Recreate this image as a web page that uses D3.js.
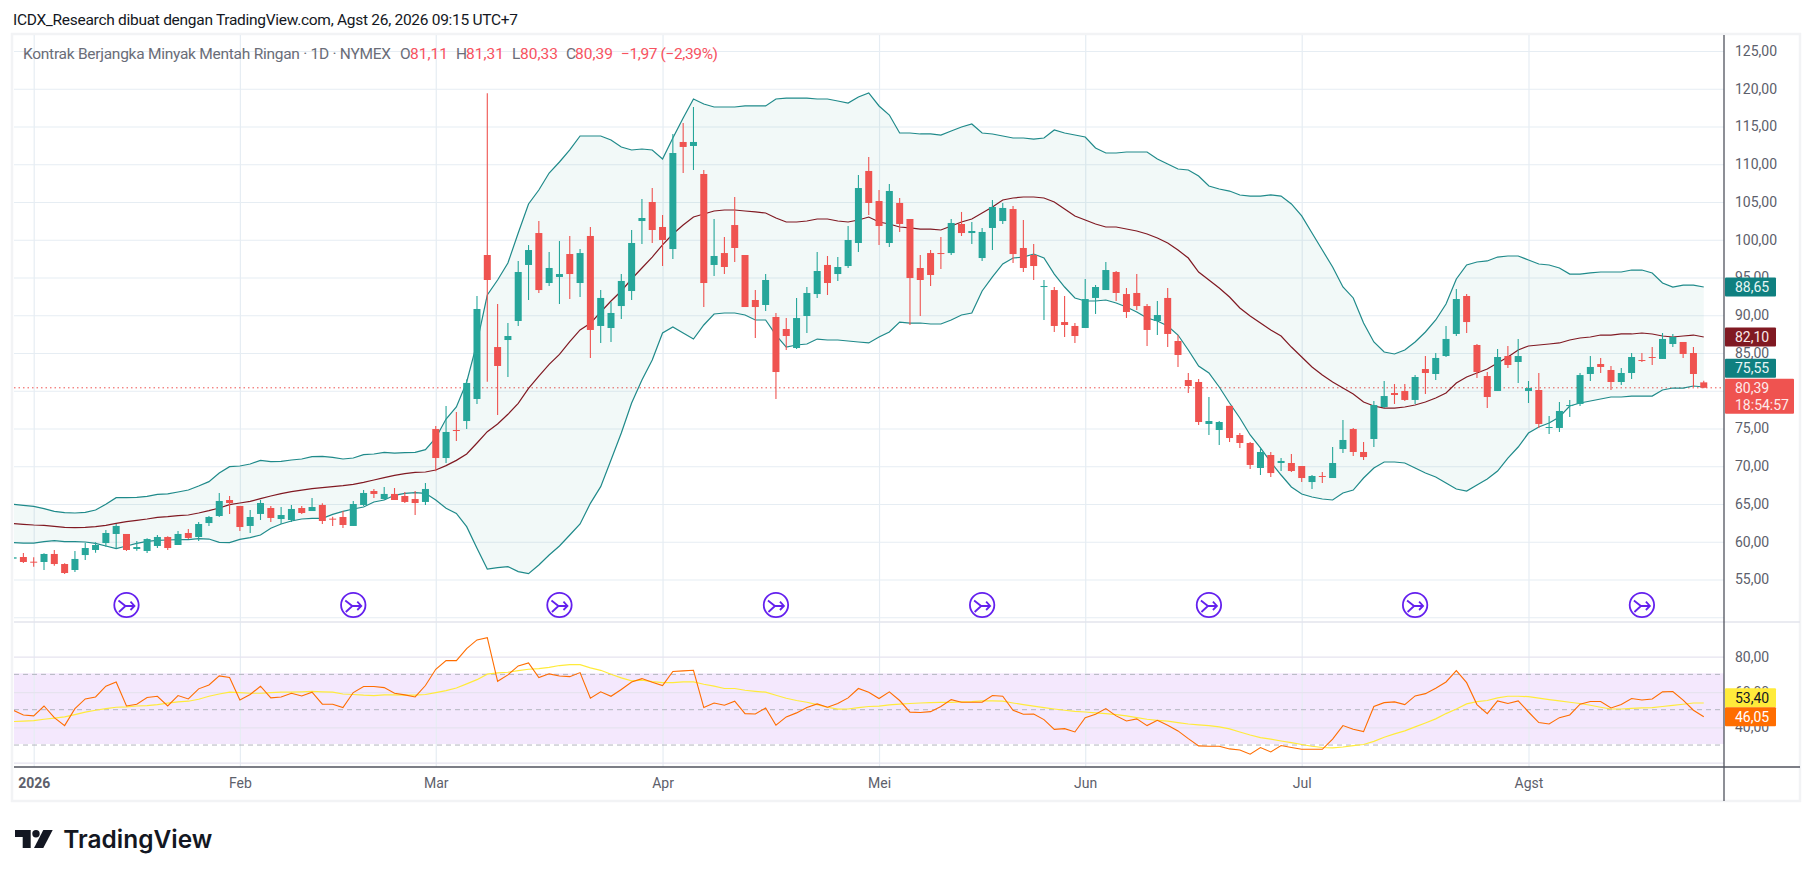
<!DOCTYPE html>
<html>
<head>
<meta charset="utf-8">
<title>Kontrak Berjangka Minyak Mentah Ringan</title>
<script src="https://cdn.jsdelivr.net/npm/d3@7"></script>
<style>
  html, body { margin: 0; padding: 0; background: #fff; }
  text { font-family: Roboto, sans-serif; }
</style>
</head>
<body>
<svg id="main-chart-svg" width="1814" height="877"></svg>
<script>
// daily candles, bar 0 is the stub at the left edge
const opens = [
  57.76,57.98,57.36,57.32,58.38,57.05,56.26,58.24,58.91,59.83,
  61.03,61.03,59.04,58.78,59.44,60.63,59.57,61.16,60.63,62.48,
  63.41,65.53,64.74,62.09,63.68,64.47,63.01,62.88,64.47,64.07,
  64.87,63.06,63.28,62.09,64.87,66.72,65.66,66.33,66.06,65.66,
  65.27,74.93,71.09,74.80,75.99,78.91,97.98,85.79,86.72,89.24,
  96.66,100.89,94.27,95.07,98.11,94.27,100.50,88.58,88.31,91.22,
  93.21,102.48,105.00,101.69,98.77,112.95,112.42,108.71,96.66,98.24,
  101.95,97.98,92.02,91.36,89.77,88.18,85.66,89.90,92.81,96.66,
  95.46,96.52,99.57,109.11,105.13,99.57,104.87,102.75,96.26,98.24,
  98.24,98.24,102.09,100.89,97.58,101.56,102.48,104.07,98.91,97.98,
  93.74,93.34,89.10,88.58,88.31,92.29,93.34,95.73,92.81,92.95,
  91.22,89.24,92.29,86.59,81.42,81.16,75.60,74.80,78.00,74.14,
  73.08,69.77,71.49,70.43,70.43,70.03,67.91,68.71,68.44,72.28,
  74.93,71.89,73.61,77.85,79.70,79.97,78.78,82.88,82.22,84.60,
  87.52,92.55,86.06,81.95,79.97,84.60,83.81,79.97,80.10,75.07,
  75.07,77.98,78.25,82.22,83.54,82.75,81.16,82.35,84.07,84.47,
  84.21,86.19,86.46,85.00,81.11
];
const highs = [
  58.00,58.51,57.94,58.47,58.91,57.14,58.77,59.88,59.92,61.56,
  62.35,61.03,60.10,60.45,60.89,60.72,61.42,61.69,62.62,63.41,
  66.46,66.06,64.74,64.21,65.53,64.74,64.60,64.87,64.74,65.79,
  65.09,63.32,64.07,65.40,66.86,66.99,67.25,67.12,66.59,66.72,
  67.78,75.33,77.98,77.19,81.50,92.55,119.40,91.49,88.97,97.18,
  99.30,102.48,98.38,99.83,100.50,98.77,101.69,93.34,91.76,95.46,
  101.29,105.40,106.85,103.28,114.01,115.46,117.58,109.24,102.75,100.36,
  105.66,97.98,93.34,95.46,90.30,89.63,92.29,93.74,98.38,97.85,
  97.72,101.82,108.58,110.96,106.59,107.38,105.53,102.75,97.98,98.64,
  100.36,102.75,103.68,102.35,101.56,105.27,104.87,104.47,102.62,99.44,
  94.67,93.74,92.55,88.97,94.80,94.01,97.05,95.86,93.61,95.46,
  91.49,91.89,93.61,87.38,82.35,81.56,79.17,75.99,78.00,74.40,
  73.21,72.55,71.89,71.09,71.62,70.03,68.84,69.24,72.55,76.13,
  75.07,73.21,78.64,81.29,80.89,80.89,82.08,84.60,85.00,88.58,
  93.48,92.81,86.19,82.48,85.53,85.93,86.86,81.29,82.35,76.65,
  78.51,78.78,82.35,84.60,84.34,83.28,83.01,85.00,85.00,85.79,
  87.65,87.52,86.46,85.79,81.31
];
const lows = [
  57.70,57.19,56.70,56.26,56.83,55.73,55.99,57.58,58.55,59.35,
  59.13,58.78,58.82,58.51,59.17,58.91,59.57,60.36,60.10,62.09,
  63.28,63.68,61.42,61.16,62.88,62.62,62.35,62.62,63.68,64.07,
  62.35,62.09,61.82,62.09,64.74,65.79,65.53,65.53,65.13,63.54,
  64.87,69.33,70.43,73.34,74.93,78.24,81.20,76.79,81.82,88.58,
  92.02,92.95,93.87,91.49,92.15,92.42,84.34,86.33,86.46,89.50,
  92.02,99.44,99.57,96.52,97.45,108.84,109.24,91.09,95.20,95.46,
  97.05,91.09,86.99,90.56,78.90,85.40,85.53,87.65,92.29,92.68,
  94.54,96.26,98.38,103.28,99.31,99.04,101.03,88.71,89.90,93.87,
  96.13,97.98,100.50,99.44,97.18,98.64,102.09,96.92,95.73,94.67,
  89.37,87.78,87.12,86.33,88.31,90.17,93.34,91.89,89.64,90.70,
  85.93,87.38,85.79,83.15,79.70,75.46,74.14,72.81,73.21,72.42,
  69.64,68.84,68.58,69.37,69.24,67.91,66.99,67.78,68.44,71.76,
  71.36,70.83,72.55,77.71,78.25,78.64,78.25,79.57,81.42,84.47,
  87.25,87.65,81.69,77.71,79.97,83.01,81.03,78.38,75.07,74.27,
  74.54,76.52,77.98,81.29,82.35,80.10,80.76,81.56,83.81,83.41,
  84.21,85.79,84.34,80.50,80.33
];
const closes = [
  57.94,57.32,57.27,58.38,57.05,55.86,57.72,59.17,59.57,61.16,
  62.09,58.91,59.30,60.36,60.63,59.17,61.03,60.50,62.35,63.28,
  65.40,65.13,61.95,63.28,65.13,63.15,63.54,64.34,63.81,64.60,
  62.75,62.93,62.22,65.00,66.46,66.33,66.33,65.53,65.27,65.13,
  66.99,71.09,74.54,74.67,81.03,90.83,94.67,83.28,87.25,95.73,
  98.64,93.34,96.26,95.46,95.46,98.24,88.05,92.29,90.30,94.54,
  99.57,102.88,101.29,99.97,111.49,112.29,112.95,94.27,97.85,96.39,
  98.91,91.09,91.09,94.67,82.48,87.25,89.63,92.95,95.86,94.27,
  96.39,99.97,106.85,104.87,101.82,106.46,102.09,94.93,94.67,95.33,
  98.11,102.22,100.89,101.16,101.03,104.34,104.21,98.11,96.26,96.52,
  93.87,88.58,88.71,87.25,92.15,93.74,95.99,92.95,90.43,91.22,
  88.05,90.03,87.52,84.74,80.63,75.86,75.99,75.86,73.74,73.08,
  70.17,71.89,69.10,70.70,69.37,68.44,68.71,68.58,70.43,73.48,
  71.89,71.22,78.11,79.30,79.44,78.78,81.82,82.35,84.34,86.86,
  92.15,89.10,82.48,79.17,84.47,83.41,84.60,80.36,75.60,75.20,
  77.32,78.11,82.08,83.15,83.15,81.16,82.35,84.47,83.94,84.34,
  86.86,87.12,84.87,82.22,80.39
];

// bollinger bands
const bbUpper = [
  64.96,64.82,64.69,64.38,64.03,63.85,63.81,63.90,64.21,64.96,
  65.84,65.84,65.88,66.02,66.28,66.33,66.59,66.85,67.38,67.96,
  69.11,69.94,70.03,70.30,70.78,70.61,70.65,70.83,70.96,71.27,
  71.31,71.18,70.96,71.09,71.53,71.62,71.84,71.75,71.80,71.84,
  72.20,73.74,76.26,77.85,81.16,86.33,92.68,94.67,96.92,100.89,
  104.74,106.59,108.84,110.30,111.89,113.74,113.74,113.74,113.21,112.29,
  111.89,112.02,111.89,110.70,113.48,116.13,118.64,117.98,117.58,117.58,
  117.58,117.72,117.72,117.72,118.64,118.77,118.77,118.77,118.64,118.64,
  118.38,118.11,118.91,119.44,117.72,116.52,114.14,114.14,114.01,114.01,
  113.87,114.40,114.93,115.33,114.14,114.01,113.74,113.48,113.48,113.34,
  113.48,114.54,114.14,113.87,113.61,112.15,111.49,111.49,111.62,111.62,
  111.62,110.70,110.03,109.37,109.24,108.44,107.12,106.72,106.45,105.93,
  105.79,105.79,105.93,105.79,104.74,103.15,100.89,98.64,96.39,93.74,
  92.29,88.97,86.46,85.13,84.87,85.40,86.46,87.78,89.37,91.49,
  94.80,96.66,97.05,97.19,97.71,97.85,97.85,97.32,96.79,96.66,
  96.26,95.46,95.46,95.60,95.73,95.73,95.73,95.99,95.99,95.60,
  94.27,93.74,94.00,94.00,93.74
];
const bbBasis = [
  62.40,62.31,62.22,62.17,62.04,61.91,61.87,61.91,62.00,62.17,
  62.44,62.66,62.84,63.01,63.23,63.32,63.46,63.54,63.81,64.12,
  64.47,64.91,65.13,65.35,65.71,66.06,66.37,66.63,66.85,67.03,
  67.16,67.30,67.43,67.60,67.87,68.18,68.49,68.80,69.02,69.19,
  69.24,69.50,70.08,70.78,71.62,73.08,74.58,75.60,76.88,78.33,
  80.32,81.95,83.50,84.82,86.50,88.05,88.93,90.43,91.89,93.21,
  94.80,96.26,97.71,99.31,100.76,101.95,103.01,103.41,103.81,103.94,
  103.94,103.81,103.68,103.54,102.88,102.35,102.35,102.48,102.75,102.75,
  102.48,102.35,102.62,103.01,102.35,102.09,101.69,101.56,101.42,101.42,
  101.29,101.82,102.35,102.75,103.54,104.34,105.27,105.53,105.66,105.66,
  105.53,105.00,104.07,103.15,102.62,102.09,101.69,101.69,101.42,101.16,
  100.76,100.23,99.57,98.64,97.58,95.73,94.67,93.61,92.42,90.96,
  89.90,88.97,88.05,87.25,85.79,84.47,83.15,82.08,81.16,80.36,
  79.57,78.51,77.98,77.71,77.71,77.85,78.11,78.51,79.04,79.70,
  81.03,81.82,82.35,82.88,83.68,84.47,85.40,85.93,86.06,86.19,
  86.33,86.72,86.99,87.12,87.38,87.38,87.52,87.52,87.65,87.52,
  87.25,87.12,87.25,87.38,87.12
];
const bbLower = [
  59.88,59.83,59.83,60.01,60.14,60.01,60.01,59.97,59.79,59.44,
  59.08,59.44,59.79,60.06,60.19,60.23,60.28,60.28,60.41,60.36,
  59.92,59.88,60.32,60.54,60.89,61.78,62.35,62.75,63.01,63.10,
  63.10,63.63,64.03,64.34,64.60,65.27,65.53,66.15,66.41,66.50,
  66.41,65.53,64.43,63.76,62.00,59.13,56.39,56.57,56.70,56.04,
  55.77,56.92,58.24,59.44,60.89,62.35,65.09,67.30,70.83,74.40,
  78.38,81.42,84.07,87.65,88.44,87.65,86.85,88.71,90.17,90.30,
  90.30,90.03,89.37,89.37,87.38,85.79,86.06,86.19,86.85,86.72,
  86.72,86.59,86.46,86.33,87.12,87.78,89.10,88.97,88.97,88.84,
  88.84,89.37,90.03,90.30,93.21,95.07,96.79,97.58,97.71,98.11,
  97.58,95.46,93.74,92.29,91.89,91.89,92.02,91.62,91.09,90.43,
  89.64,89.24,88.58,87.38,85.40,83.28,82.35,80.50,78.38,76.39,
  74.14,72.42,70.56,68.84,67.25,66.32,65.93,65.66,65.53,66.46,
  66.85,68.44,69.77,70.56,70.56,70.43,69.77,69.11,68.58,67.78,
  66.99,66.72,67.52,68.31,69.37,71.09,72.55,74.40,75.20,75.73,
  76.52,77.98,78.38,78.64,78.91,79.17,79.17,79.30,79.30,79.30,
  80.10,80.36,80.36,80.63,80.50
];

// rsi pane
const rsiValues = [
  49.7,47.0,46.5,52.1,45.5,41.0,50.6,56.1,57.2,63.3,
  65.7,52.1,53.1,56.9,57.6,52.1,58.0,56.1,61.8,64.0,
  69.1,68.2,55.5,58.6,63.3,56.7,57.2,59.3,57.8,59.9,
  53.1,53.1,51.2,59.7,63.1,63.1,62.5,59.3,58.4,57.2,
  63.7,72.9,77.8,77.8,84.6,89.5,90.8,66.1,69.7,74.8,
  76.5,68.2,70.3,69.1,68.7,71.0,56.5,60.1,57.6,61.4,
  65.7,67.6,65.5,63.7,71.6,72.0,72.3,51.2,53.8,52.5,
  54.8,47.8,47.6,51.0,41.2,45.9,48.2,51.2,53.3,51.4,
  53.5,56.7,62.0,59.9,56.3,60.1,55.2,48.6,48.4,48.9,
  51.8,55.7,54.2,54.2,54.2,58.0,57.6,49.7,47.4,47.6,
  44.4,38.9,39.3,37.4,45.5,47.4,50.6,46.5,43.6,44.8,
  41.0,44.0,41.2,38.0,33.6,29.5,29.3,29.3,27.8,27.2,
  24.8,28.6,26.1,29.7,28.6,27.6,27.6,27.6,33.3,41.0,
  38.9,37.6,51.8,54.0,54.4,52.9,57.8,59.1,62.1,65.7,
  72.1,65.3,52.9,47.8,55.0,53.5,55.0,48.7,42.7,41.9,
  45.5,47.0,53.1,54.6,54.6,51.0,52.9,56.3,55.5,56.1,
  60.1,60.3,55.4,49.7,46.05
];
const rsiMa = [
  43.3,43.5,43.8,44.6,45.2,45.9,47.2,48.6,49.7,50.6,
  51.4,51.6,52.1,52.3,52.9,53.7,54.4,54.8,55.9,57.6,
  58.9,59.9,59.7,59.3,59.3,59.7,59.9,59.9,60.1,60.4,
  60.1,59.9,58.9,58.6,58.2,58.0,58.4,58.4,58.2,58.2,
  58.6,59.7,60.8,62.3,64.6,67.0,70.1,70.8,71.2,72.1,
  72.9,73.3,74.0,75.0,75.5,75.5,73.7,72.3,70.1,68.0,
  66.3,66.7,65.9,65.3,65.3,65.7,65.7,64.4,63.3,62.0,
  62.0,61.0,60.4,59.9,58.2,56.5,55.2,54.2,52.9,51.4,
  50.3,50.4,51.2,51.8,52.0,52.7,53.1,53.5,53.8,54.0,
  54.2,54.2,54.4,54.6,55.0,55.0,54.8,53.8,52.9,52.0,
  51.2,50.4,49.7,49.1,48.7,48.2,47.8,47.2,46.5,45.5,
  44.6,44.0,43.5,42.7,41.9,41.4,41.0,40.3,39.1,37.4,
  35.7,34.2,33.3,32.3,31.4,30.3,29.3,28.6,28.4,28.9,
  29.7,30.3,32.1,34.4,36.3,38.0,40.3,42.5,44.8,47.8,
  50.4,53.3,54.6,55.2,56.7,57.6,57.6,57.4,56.5,55.7,
  55.0,54.2,53.5,52.5,51.4,50.4,50.4,50.8,51.0,51.2,
  51.8,52.5,53.1,53.8,53.8
];

// axes
const priceTicks = [55,60,65,70,75,80,85,90,95,100,105,110,115,120,125];
const priceGrid = [50].concat(priceTicks);
const rsiTicks = [80,60,40,20];
const rsiLevels = [70,50,30];
const monthBars = [2,22,41,63,84,104,125,147];
const monthLabels = ["2026","Feb","Mar","Apr","Mei","Jun","Jul","Agst"];
const eventBars = [11,33,53,74,94,116,136,158];

// header and last value labels
const titleText = "ICDX_Research dibuat dengan TradingView.com, Agst 26, 2026 09:15 UTC+7";
const symbolText = "Kontrak Berjangka Minyak Mentah Ringan · 1D · NYMEX";
const ohlcText = ["O","81,11","H","81,31","L","80,33","C","80,39","−1,97 (−2,39%)"];
const countdownText = "18:54:57";
const upperLabel = "88,65", basisLabel = "82,10", lowerLabel = "75,55", closeLabel = "80,39";
const rsiLabel = "46,05", rsiMaLabel = "53,40";

const teal = "#26a69a", red = "#ef5350", bandColor = "#1f8a8a", basisColor = "#801922";
const gridColor = "#e6edf3", axisColor = "#50535e", tickColor = "#5d606b";

const plotLeft = 14, plotRight = 1724, plotTop = 35, plotBottom = 767, paneBreak = 622;

const svg = d3.select("#main-chart-svg");
const bars = d3.range(opens.length);

const xScale = d3.scaleLinear().domain([2, 147]).range([33.7, 1528.5]);
const yScale = d3.scaleLinear().domain([125, 50]).range([51, 617.25]);
const rsiScale = d3.scaleLinear().domain([80, 20]).range([656.7, 762.7]);
const comma = d => d3.format(".2f")(d).replace(".", ",");

svg.append("defs").append("clipPath").attr("id", "plot-clip")
  .append("rect").attr("x", plotLeft).attr("y", plotTop).attr("width", plotRight - plotLeft).attr("height", plotBottom - plotTop);

// frame
svg.append("rect").attr("x", 12).attr("y", 34).attr("width", 1788).attr("height", 767)
  .attr("fill", "#fff").attr("stroke", "#f2f3f5").attr("stroke-width", 2.5);

const plot = svg.append("g").attr("clip-path", "url(#plot-clip)");

// rsi band goes under the grid lines
plot.append("rect")
  .attr("x", plotLeft).attr("width", plotRight - plotLeft)
  .attr("y", rsiScale(rsiLevels[0]) - 1)
  .attr("height", rsiScale(rsiLevels[2]) - rsiScale(rsiLevels[0]))
  .attr("fill", "#f4e8fd");

// grid, built from axes with long ticks
const xGrid = plot.append("g").attr("transform", `translate(0,${plotBottom})`)
  .call(d3.axisBottom(xScale).tickValues(monthBars).tickSize(plotTop - plotBottom).tickFormat(""));
xGrid.select(".domain").remove();
xGrid.selectAll("line").attr("stroke", gridColor).attr("stroke-width", 1.2);

const yGrid = plot.append("g").attr("transform", `translate(${plotLeft},0)`)
  .call(d3.axisRight(yScale).tickValues(priceGrid).tickSize(plotRight - plotLeft).tickFormat(""));
yGrid.select(".domain").remove();
yGrid.selectAll("line").attr("stroke", gridColor).attr("stroke-width", 1.2);

const rsiGrid = plot.append("g").attr("transform", `translate(${plotLeft},0)`)
  .call(d3.axisRight(rsiScale).tickValues(rsiTicks).tickSize(plotRight - plotLeft).tickFormat(""));
rsiGrid.select(".domain").remove();
rsiGrid.selectAll("line").attr("stroke", "#e6e3ef").attr("stroke-width", 1.2);

plot.selectAll(".rsi-level").data(rsiLevels).join("line")
  .attr("class", "rsi-level")
  .attr("x1", plotLeft).attr("x2", plotRight)
  .attr("y1", d => rsiScale(d)).attr("y2", d => rsiScale(d))
  .attr("stroke", "#b2b5be").attr("stroke-width", 1).attr("stroke-dasharray", "5 4");

// pane separator and last price line
svg.append("line").attr("x1", plotLeft).attr("x2", 1800).attr("y1", paneBreak).attr("y2", paneBreak)
  .attr("stroke", "#e3e5ec").attr("stroke-width", 1.5);
plot.append("line")
  .attr("x1", plotLeft).attr("x2", plotRight)
  .attr("y1", yScale(closes[closes.length - 1])).attr("y2", yScale(closes[closes.length - 1]))
  .attr("stroke", red).attr("stroke-width", 1).attr("stroke-dasharray", "1.5 3");

// bollinger fill and lines
plot.append("path").datum(bars)
  .attr("fill", "#2a9d8f").attr("fill-opacity", 0.06)
  .attr("d", d3.area().x(i => xScale(i)).y0(i => yScale(bbLower[i])).y1(i => yScale(bbUpper[i])));

const priceLine = vals => d3.line().x(i => xScale(i)).y(i => yScale(vals[i]));
[[bbUpper, bandColor], [bbLower, bandColor], [bbBasis, basisColor]].forEach(([vals, color]) => {
  plot.append("path").datum(bars)
    .attr("fill", "none").attr("stroke", color).attr("stroke-width", 1.2)
    .attr("d", priceLine(vals));
});

// candles
const candleColor = i => closes[i] >= opens[i] ? teal : red;
plot.selectAll(".wick").data(bars).join("line")
  .attr("class", "wick")
  .attr("x1", i => xScale(i)).attr("x2", i => xScale(i))
  .attr("y1", i => yScale(highs[i])).attr("y2", i => yScale(lows[i]))
  .attr("stroke", candleColor).attr("stroke-width", 1.1);
plot.selectAll(".body").data(bars).join("rect")
  .attr("class", "body")
  .attr("x", i => xScale(i) - 3.5).attr("width", 7)
  .attr("y", i => yScale(Math.max(opens[i], closes[i])))
  .attr("height", i => Math.max(1, Math.abs(yScale(opens[i]) - yScale(closes[i]))))
  .attr("fill", candleColor);

// rsi lines
const rsiLine = vals => d3.line().x(i => xScale(i)).y(i => rsiScale(vals[i]));
plot.append("path").datum(bars).attr("fill", "none").attr("stroke", "#ffeb3b").attr("stroke-width", 1.2)
  .attr("d", rsiLine(rsiMa));
plot.append("path").datum(bars).attr("fill", "none").attr("stroke", "#ff6d00").attr("stroke-width", 1.1)
  .attr("d", rsiLine(rsiValues));

// event markers
const marks = plot.selectAll(".event").data(eventBars).join("g")
  .attr("class", "event")
  .attr("transform", d => `translate(${xScale(d)},605)`)
  .attr("fill", "none").attr("stroke", "#6420ee").attr("stroke-width", 1.8);
marks.append("circle").attr("r", 12.2).attr("fill", "#fff");
marks.append("path").attr("d", "M-8,-4.5L-1,1L8,1M4,-3.3L8,1L4,5M-1,1L-7.5,7");

// axis lines
svg.append("line").attr("x1", plotRight).attr("x2", plotRight).attr("y1", plotTop).attr("y2", 801)
  .attr("stroke", axisColor).attr("stroke-width", 1.3);
svg.append("line").attr("x1", plotLeft).attr("x2", 1800).attr("y1", plotBottom).attr("y2", plotBottom)
  .attr("stroke", axisColor).attr("stroke-width", 1.3);

// tick labels
const priceAxis = svg.append("g").attr("transform", `translate(${plotRight},0)`)
  .call(d3.axisRight(yScale).tickValues(priceTicks).tickSize(0).tickPadding(11).tickFormat(comma));
const rsiAxis = svg.append("g").attr("transform", `translate(${plotRight},0)`)
  .call(d3.axisRight(rsiScale).tickValues([80, 60, 40]).tickSize(0).tickPadding(11).tickFormat(comma));
const timeAxis = svg.append("g").attr("transform", `translate(0,${plotBottom})`)
  .call(d3.axisBottom(xScale).tickValues(monthBars).tickSize(0).tickPadding(11)
    .tickFormat((d, i) => monthLabels[i]));
[priceAxis, rsiAxis, timeAxis].forEach(g => {
  g.select(".domain").remove();
  g.selectAll("text").attr("font-size", 14).attr("fill", tickColor).style("font-family", "Roboto, sans-serif");
});
timeAxis.select("text").attr("font-weight", 700);

// last value tags
function valueTag(y, label, bg, fg) {
  svg.append("rect").attr("x", plotRight + 1).attr("y", y - 9.5).attr("width", 51).attr("height", 19)
    .attr("rx", 1).attr("fill", bg);
  svg.append("text").attr("x", plotRight + 11).attr("y", y + 5).attr("font-size", 14).attr("fill", fg).text(label);
}
const lastBar = bars.length - 1;
const closeY = yScale(closes[lastBar]);
valueTag(yScale(bbUpper[lastBar]), upperLabel, "#0f8080", "#e8f6f5");
valueTag(yScale(bbBasis[lastBar]), basisLabel, basisColor, "#f9e9e9");
valueTag(closeY - 19.5, lowerLabel, "#0f8080", "#e8f6f5");

svg.append("rect").attr("x", plotRight + 1).attr("y", closeY - 9).attr("width", 69).attr("height", 35)
  .attr("rx", 1).attr("fill", red);
svg.append("text").attr("x", plotRight + 11).attr("y", closeY + 5).attr("font-size", 14).attr("fill", "#fdeaea").text(closeLabel);
svg.append("text").attr("x", plotRight + 11).attr("y", closeY + 22.5).attr("font-size", 14).attr("fill", "#fdeaea").text(countdownText);

const rsiY = rsiScale(rsiValues[lastBar]);
valueTag(rsiY - 19, rsiMaLabel, "#ffeb3b", "#131722");
valueTag(rsiY, rsiLabel, "#ff6d00", "#fff");

// header
svg.append("text").attr("x", 13).attr("y", 25).attr("font-size", 15.5).attr("fill", "#131722")
  .attr("textLength", 505).attr("lengthAdjust", "spacing").text(titleText);

const legend = svg.append("g").attr("font-size", 15.5).attr("fill", "#6a6d78");
legend.append("text").attr("x", 23).attr("y", 59)
  .attr("textLength", 368).attr("lengthAdjust", "spacing").text(symbolText);
const ohlcX = [400, 410, 456, 466, 512, 520, 566, 575, 621];
ohlcText.forEach((t, i) => {
  const seg = legend.append("text").attr("x", ohlcX[i]).attr("y", 59)
    .attr("fill", i % 2 === 1 || i === 8 ? "#f7525f" : "#6a6d78").text(t);
  if (i === 8) seg.attr("textLength", 97).attr("lengthAdjust", "spacing");
});

// logo
const logo = svg.append("g").attr("fill", "#131722");
logo.append("path").attr("d", "M15,830H30.7V848H22.7V837H15Z");
logo.append("circle").attr("cx", 36).attr("cy", 833.7).attr("r", 3.7);
logo.append("path").attr("d", "M43.3,830H52.7L43.3,848H34Z");
logo.append("text").attr("x", 63.3).attr("y", 848).attr("font-size", 24.7).attr("font-weight", 600)
  .style("font-family", "Inter, sans-serif")
  .attr("textLength", 149).attr("lengthAdjust", "spacingAndGlyphs").text("TradingView");
</script>
</body>
</html>
